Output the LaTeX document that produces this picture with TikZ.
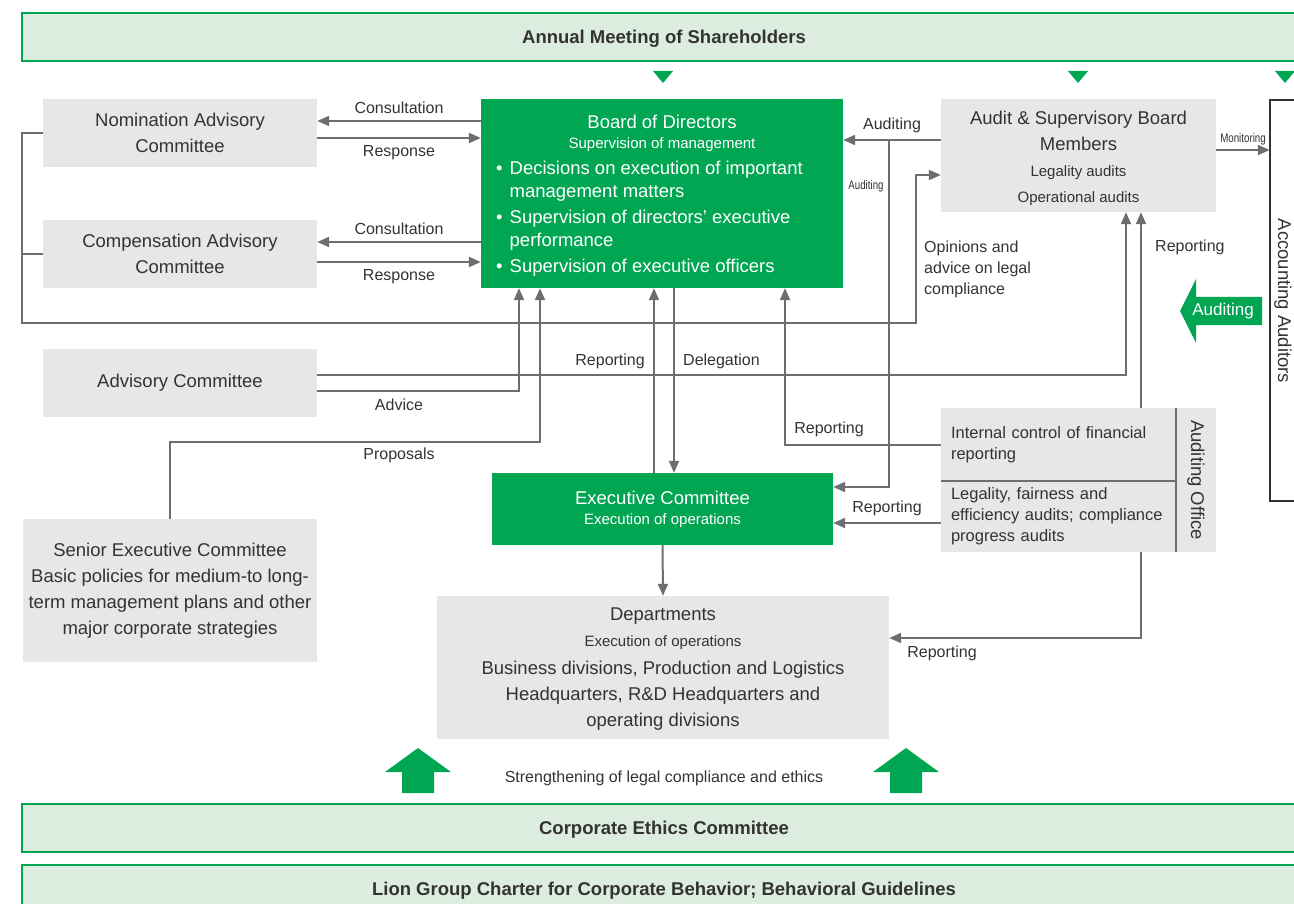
\documentclass[tikz,border=0pt]{standalone}
\usepackage{fontspec}
\setmainfont{Liberation Sans}
\usepackage{graphicx}
\usepackage{xcolor}
\usetikzlibrary{arrows.meta}
\definecolor{corpgreen}{RGB}{0,166,81}
\definecolor{bandgreen}{RGB}{220,237,223}
\definecolor{boxgrey}{RGB}{230,231,232}
\definecolor{linegrey}{RGB}{109,110,113}
\definecolor{textgrey}{RGB}{51,51,51}
\newcommand\fsmain{\fontsize{18.5}{26}\selectfont}
\newcommand\fslabel{\fontsize{16}{21}\selectfont}
\newcommand\fssub{\fontsize{15}{20}\selectfont}
\newcommand\fsoffice{\fontsize{16.5}{21}\selectfont}
\newcommand\fstiny[1]{\scalebox{0.78}[1]{\fontsize{12.5}{14}\selectfont #1}}
\newcommand\downmark[1]{\fill[corpgreen] (#1) ++(-10,-6) -- ++(20,0) -- ++(-10,12) -- cycle;}
\newcommand\upmark[1]{\fill[corpgreen] (#1) ++(-16,0) -- ++(0,-21) -- ++(-17,0) -- ++(33,-24) -- ++(33,24) -- ++(-17,0) -- ++(0,21) -- cycle;}

\begin{document}
\begin{tikzpicture}[x=1pt,y=-1pt,>={Triangle[length=12pt,width=10pt]},
	conn/.style={draw=linegrey,line width=2pt},
	box/.style={fill=boxgrey,text=textgrey,align=center,inner sep=0pt,font=\fsmain},
	greenbox/.style={fill=corpgreen,text=white,align=center,inner sep=0pt,font=\fsmain},
	band/.style={draw=corpgreen,line width=2pt,fill=bandgreen,minimum width=1284,minimum height=48,inner sep=0pt,text height=13pt,text depth=0pt,font=\fsmain\bfseries,text=textgrey},
	lbl/.style={font=\fslabel,text=textgrey,inner sep=1pt},
	divline/.style={draw=linegrey,line width=1.5pt},
	accline/.style={draw=textgrey,line width=2pt}]
	\useasboundingbox (0,0) rectangle (1294,904);

	\node[band] (agm) at (664,37) {Annual Meeting of Shareholders};
	\downmark{663,77} \downmark{1078,77} \downmark{1285,77}

	\node[box,minimum width=274,minimum height=68] (nom) at (180,133) {Nomination Advisory\\Committee};
	\node[box,minimum width=274,minimum height=68] (comp) at (180,254) {Compensation Advisory\\Committee};
	\node[box,minimum width=274,minimum height=68] (adv) at (180,383) {Advisory Committee};
	\node[box,minimum width=294,minimum height=143] (sec) at (170,590.5) {Senior Executive Committee\\Basic policies for medium-to long-\\term management plans and other\\major corporate strategies};

	\node[greenbox,minimum width=362,minimum height=189] (bod) at (662,193.5) {};
	\node[text=white,align=center,inner sep=0pt,font=\fssub] (bodhead) at (662,133) {{\fsmain Board of Directors}\\Supervision of management};
	\node[text=white,align=left,inner sep=0pt,anchor=west,font=\fontsize{18.5}{23}\selectfont] (bodduty) at (496,219)
		{\textbullet\hspace{7pt}Decisions on execution of important\\
		\phantom{\textbullet}\hspace{7pt}management matters\\[3pt]
		\textbullet\hspace{7pt}Supervision of directors’ executive\\
		\phantom{\textbullet}\hspace{7pt}performance\\[3pt]
		\textbullet\hspace{7pt}Supervision of executive officers};

	\node[box,minimum width=275,minimum height=113] (asb) at (1078.5,155.5) {\rule{0pt}{20pt}Audit \& Supervisory Board\\Members\\{\fssub Legality audits}\\{\fssub Operational audits}};

	\node[minimum width=34,minimum height=401,inner sep=0pt] (acc) at (1287,300.5) {};
	\draw[accline] (acc.north east) -- (acc.north west) -- (acc.south west) -- (acc.south east);
	\node[rotate=-90,font=\fsmain,text=textgrey,inner sep=0pt] (acctext) at (1283,301) {Accounting Auditors};

	\fill[corpgreen] (1262,297) -- (1196,297) -- (1196,279) -- (1180,311) -- (1196,343) -- (1196,325) -- (1262,325) -- cycle;
	\node[text=white,font=\fontsize{17}{20}\selectfont,inner sep=0pt] (audgreen) at (1223,311) {Auditing};

	\node[greenbox,minimum width=341,minimum height=72,font=\fssub] (exe) at (662.5,509) {{\fsmain Executive Committee}\\Execution of operations};

	\node[box,minimum width=235,minimum height=73,text width=215,align=left,font=\fsoffice] (icfr) at (1058.5,444.5) {Internal control of financial\\reporting};
	\node[box,minimum width=235,minimum height=71,text width=215,align=left,font=\fsoffice] (lfe) at (1058.5,516.5) {Legality, fairness and\\efficiency audits; compliance\\progress audits};
	\node[box,rotate=-90,minimum width=144,minimum height=40] (aoff) at (1196,480) {Auditing Office};
	\draw[divline] (icfr.north east) -- (lfe.south east);
	\draw[divline] (icfr.south west) -- (icfr.south east);

	\node[box,minimum width=452,minimum height=143] (dep) at (663,667.5) {\rule{0pt}{16pt}Departments\\{\fssub Execution of operations}\\[2pt]Business divisions, Production and Logistics\\Headquarters, R\&D Headquarters and\\operating divisions};

	\upmark{418,793} \upmark{906,793}
	\node[lbl] (strength) at (664,778) {Strengthening of legal compliance and ethics};
	\node[band] (ceb) at (664,828) {Corporate Ethics Committee};
	\node[band] (lion) at (664,888.5) {Lion Group Charter for Corporate Behavior; Behavioral Guidelines};

	\draw[conn,->] (bod.west |- 0,121) -- node[lbl,above=5pt] {Consultation} (nom.east |- 0,121);
	\draw[conn,->] (nom.east |- 0,138) -- node[lbl,below=5pt] {Response} (bod.west |- 0,138);
	\draw[conn,->] (bod.west |- 0,242) -- node[lbl,above=5pt] {Consultation} (comp.east |- 0,242);
	\draw[conn,->] (comp.east |- 0,262) -- node[lbl,below=5pt] {Response} (bod.west |- 0,262);

	\coordinate (lcorner) at (22,323);
	\coordinate (ocorner) at (916,323);
	\draw[conn,->] (nom.west) -| (lcorner) -- (ocorner) |- (asb.west |- 0,175);
	\draw[conn] (comp.west) -- (comp.west -| lcorner);
	\node[lbl,anchor=west,align=left] (opinion) at (923,269) {Opinions and\\advice on legal\\compliance};

	\draw[conn,->] (asb.west |- 0,140) -- node[lbl,above=5pt] {Auditing} (bod.east |- 0,140);
	\coordinate (audsplit) at (889,140);
	\draw[conn,->] (audsplit) |- (exe.east |- 0,487);
	\node[lbl] (audsmall) at (866,186) {\fstiny{Auditing}};
	\draw[conn,->] (asb.east |- 0,150) -- node[lbl,above=3pt] {\fstiny{Monitoring}} (acc.west |- 0,150);

	\draw[conn,->] (adv.east |- 0,375) -| (asb.south -| 1126,0);
	\draw[conn,->] (adv.east |- 0,391) -| (bod.south -| 519,0);
	\node[lbl] (advice) at (399,405) {Advice};
	\coordinate (propcorner) at (540,442);
	\draw[conn,->] (sec.north) |- (propcorner) -- (bod.south -| propcorner);
	\node[lbl] (proposals) at (399,455) {Proposals};

	\draw[conn,->] (exe.north -| 654,0) -- (bod.south -| 654,0);
	\draw[conn,->] (bod.south -| 674,0) -- (exe.north -| 674,0);
	\node[lbl,anchor=east] (repbod) at (646,361) {Reporting};
	\node[lbl,anchor=west] (deleg) at (682,361) {Delegation};

	\draw[conn,->] (icfr.west) -| (bod.south -| 785,0);
	\node[lbl] (repicfr) at (829,429) {Reporting};
	\draw[conn,->] (lfe.west |- 0,523) -- node[lbl,above=5pt] {Reporting} (exe.east |- 0,523);
	\draw[conn,->] (icfr.north -| 1141,0) -- (asb.south -| 1141,0);
	\node[lbl,anchor=west] (repasb) at (1154,247) {Reporting};
	\draw[conn,->] (lfe.south -| 1141,0) |- (dep.east |- 0,638);
	\node[lbl] (repdep) at (942,653) {Reporting};
	\draw[conn,->] (exe.south) -- (dep.north);
\end{tikzpicture}
\end{document}
